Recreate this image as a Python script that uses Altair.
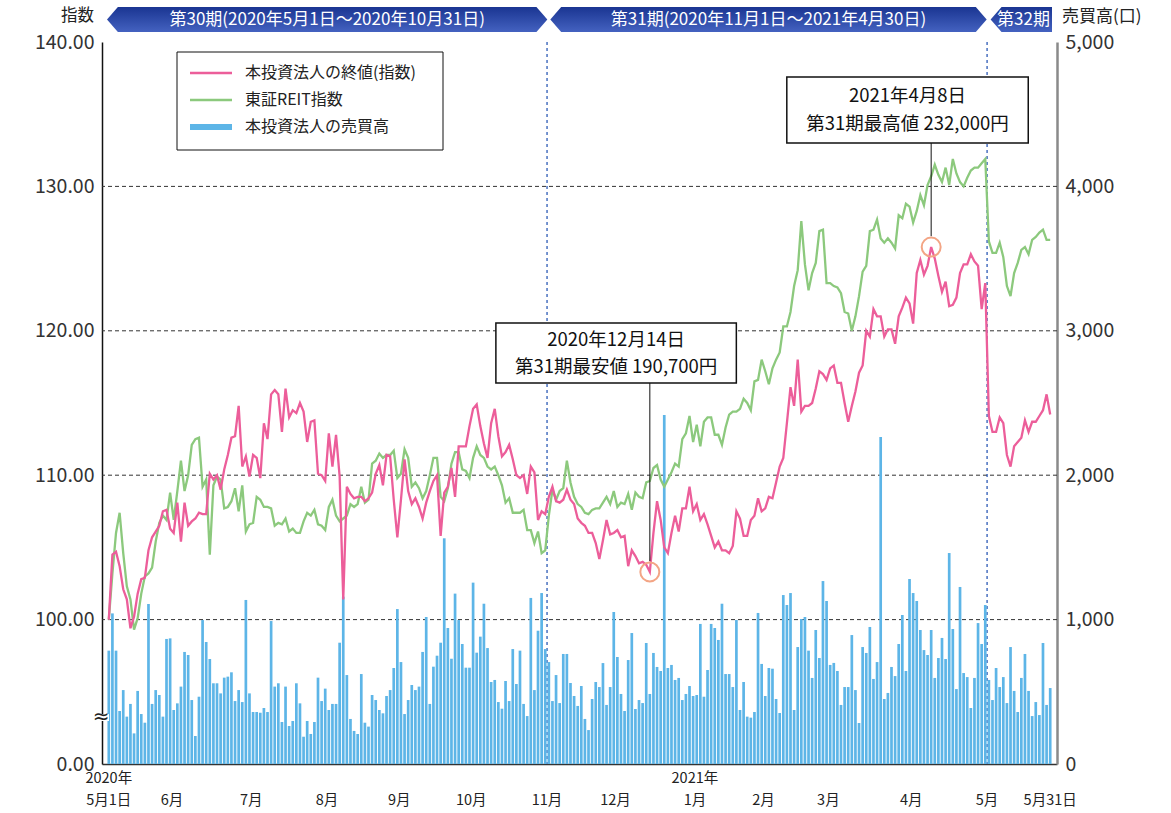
import altair as alt
import pandas as pd

FONT = "Noto Sans CJK JP"

# ---------------- trading calendar (TSE) ----------------
HOLIDAYS = ["2020-05-04", "2020-05-05", "2020-05-06", "2020-07-23", "2020-07-24",
            "2020-08-10", "2020-09-21", "2020-09-22", "2020-10-01", "2020-11-03",
            "2020-11-23", "2020-12-31", "2021-01-01", "2021-01-11", "2021-02-11",
            "2021-02-23", "2021-04-29", "2021-05-03", "2021-05-04", "2021-05-05"]
DAYS = [d for d in pd.bdate_range("2020-05-01", "2021-05-31")
        if d.strftime("%Y-%m-%d") not in HOLIDAYS]

# ---------------- series ----------------
PINK = [
    100.0, 104.5, 104.7, 103.7, 102.1, 101.4, 99.4, 100.2, 101.8, 102.8,
    102.9, 104.8, 105.7, 106.1, 106.5, 107.5, 107.6, 106.3, 106.0, 108.1,
    105.4, 108.1, 106.5, 106.8, 107.0, 107.4, 107.3, 107.3, 110.1, 109.7,
    110.0, 109.0, 110.4, 111.4, 112.6, 112.7, 114.8, 110.6, 111.3, 109.9,
    111.4, 111.2, 109.8, 113.6, 112.5, 115.6, 115.9, 115.6, 113.0, 116.0,
    114.0, 114.5, 114.3, 115.0, 114.4, 112.3, 113.7, 113.8, 110.1, 110.0,
    109.6, 112.9, 110.6, 112.8, 109.9, 101.4, 109.2, 108.7, 108.4, 108.5,
    108.5, 108.2, 108.4, 108.8, 110.1, 110.7, 109.3, 111.4, 111.3, 108.3,
    105.7, 108.3, 111.1, 108.9, 108.0, 108.4,
    107.8, 107.0, 108.1, 108.9, 109.6, 110.0, 105.8, 108.8, 109.2, 110.5,
    108.5, 112.0, 112.0, 112.0, 113.4, 114.6, 114.9, 113.4, 112.2, 111.2,
    113.6, 114.6, 112.7, 111.3, 111.6, 112.1, 111.1, 110.0, 109.8, 110.0,
    108.7, 110.6, 110.2, 106.9, 107.5, 107.3, 108.5, 109.2, 108.2, 108.1,
    108.3, 109.0, 108.3, 108.0, 107.0, 106.7, 106.5, 106.0, 106.0, 105.3,
    104.2, 105.5, 106.9, 105.9, 106.0, 106.2, 105.7, 105.8, 103.7, 104.8,
    104.4, 103.9, 104.0, 103.8, 103.3, 106.0, 108.2, 106.9, 105.0, 104.6,
    106.0, 107.2, 106.1, 107.7, 107.7, 109.2, 107.5, 108.0, 106.9, 107.3,
    106.6, 105.8, 105.0, 105.4, 104.8, 104.8, 104.6, 105.1, 107.5, 107.0,
    105.8, 105.8, 106.9, 107.2, 108.4, 107.5, 107.7, 108.5, 108.4, 109.5,
    110.6, 111.2, 113.6, 116.1, 114.8, 118.0, 114.4, 114.8, 114.8, 115.0,
    116.0, 117.2, 117.0, 116.6, 117.4, 117.6, 116.4, 116.4, 115.0, 113.7,
    114.8, 115.8, 117.1, 117.6, 120.0, 119.6, 121.5, 121.0, 121.0, 119.6,
    120.1, 120.1, 119.1, 121.0, 121.6, 122.3, 121.9, 120.5, 124.0, 124.9,
    123.9, 124.5, 125.8, 125.0, 123.8, 122.7, 123.4, 121.7, 121.8, 122.3,
    124.0, 124.6, 124.6, 125.3, 124.8, 124.5, 121.5, 123.3, 114.1, 113.0,
    113.0, 114.0, 113.6, 111.4, 110.6, 112.0, 112.3, 112.6, 113.8, 113.0,
    113.7, 113.7, 114.1, 114.5, 115.6, 114.2,
]

GREEN = [
    100.0, 103.2, 106.0, 107.4, 104.6, 102.3, 101.4, 99.3, 100.1, 101.8,
    103.0, 103.2, 103.6, 105.4, 106.7, 107.2, 106.9, 108.8, 106.9, 108.9,
    111.0, 108.9, 110.0, 112.1, 112.5, 112.6, 109.2, 109.7, 104.5, 109.3,
    109.9, 109.7, 107.7, 107.8, 108.2, 109.1, 107.5, 109.3, 106.1, 106.6,
    106.7, 108.5, 108.3, 107.8, 107.8, 107.7, 106.5, 106.7, 106.6, 107.0,
    106.1, 106.3, 106.0, 106.0, 106.8, 107.4, 107.2, 107.6, 106.6, 106.5,
    106.2, 107.8, 108.3, 107.2, 106.8, 107.0, 107.2, 108.0, 107.8, 108.0,
    109.2, 108.1, 108.3, 110.8, 111.0, 111.5, 111.2, 111.4, 111.4, 111.7,
    109.8, 110.1, 111.8, 111.2, 109.2, 109.5,
    109.1, 108.4, 108.9, 110.0, 111.2, 111.2, 108.5, 108.2, 109.1, 110.8,
    111.6, 111.6, 110.4, 110.3, 109.8, 111.2, 112.0, 111.4, 111.2, 110.6,
    110.4, 110.6, 110.0, 109.3, 108.1, 108.4, 107.4, 107.4, 107.4, 107.6,
    106.2, 106.2, 105.3, 106.1, 104.6, 104.8, 107.2, 109.0, 108.3, 108.9,
    109.1, 111.0, 109.5, 108.5, 108.0, 107.8, 107.4, 107.3, 107.6, 107.7,
    107.7, 108.1, 108.5, 108.0, 108.9, 107.8, 108.1, 108.0, 108.7, 107.6,
    108.8, 108.5, 108.4, 109.5, 109.6, 110.5, 110.7, 109.7, 109.2, 109.7,
    110.2, 110.8, 110.6, 112.5, 112.9, 114.1, 112.3, 113.5, 112.0, 113.7,
    114.0, 114.0, 112.8, 112.8, 112.1, 113.3, 114.2, 114.4, 114.4, 114.6,
    115.3, 115.0, 114.5, 116.5, 116.6, 118.0, 117.2, 116.3, 117.4, 118.0,
    118.5, 120.3, 120.3, 121.3, 123.1, 124.2, 127.6, 124.6, 122.8, 124.0,
    124.7, 126.9, 127.0, 123.3, 123.3, 123.1, 123.0, 122.6, 121.3, 121.2,
    120.0, 121.0, 122.4, 124.1, 124.5, 126.9, 127.0, 127.7, 126.4, 126.1,
    126.4, 126.1, 125.7, 128.0, 127.8, 128.8, 128.6, 127.5, 128.3, 129.4,
    128.7, 130.1, 130.7, 131.5, 130.8, 130.3, 131.3, 130.1, 131.9, 130.9,
    130.3, 130.0, 130.6, 131.1, 131.3, 131.3, 131.6, 131.9, 126.2, 125.4,
    125.4, 126.1, 125.1, 123.1, 122.4, 124.0, 124.7, 125.6, 125.8, 125.3,
    126.3, 126.5, 126.8, 127.0, 126.3, 126.3,
]

VOLUME = [
    785, 1043, 785, 367, 512, 328, 416, 212, 506, 346,
    286, 1108, 416, 512, 478, 328, 866, 870, 374, 420,
    536, 776, 755, 443, 194, 466, 997, 845, 727, 559,
    559, 489, 598, 605, 635, 436, 512, 429, 1136, 489,
    360, 360, 355, 388, 360, 990, 536, 559, 291, 536,
    263, 298, 559, 420, 189, 298, 208, 291, 598, 436,
    522, 374, 416, 416, 840, 1159, 616, 312, 229, 208,
    623, 286, 259, 478, 443, 374, 351, 471, 512, 665,
    1073, 706, 346, 443, 547, 512, 536, 776, 1018,
    416, 674, 750, 840, 1563, 942, 729, 1180, 997, 831,
    667, 667, 1256, 771, 882, 1110, 803, 568, 582, 429,
    383, 575, 436, 796, 554, 785, 416, 332, 1150, 512,
    923, 1184, 796, 706, 436, 616, 422, 762, 762, 561,
    471, 402, 540, 312, 235, 450, 568, 533, 699, 409,
    533, 1053, 741, 485, 367, 720, 907, 381, 443, 422,
    838, 485, 769, 672, 644, 2417, 665, 686, 582, 596,
    443, 485, 540, 471, 478, 970, 466, 651, 970, 942,
    859, 1110, 623, 623, 533, 997, 374,
    568, 328, 321, 360, 1046, 693, 471, 665, 660, 450,
    353, 1170, 1101, 1184, 374, 810, 1004, 1018, 785, 596,
    928, 734, 1267, 1129, 686, 700, 644, 409, 533, 533, 893,
    512, 284, 810, 769, 949, 589, 706, 2265, 450, 492,
    672, 609, 831, 1032, 644, 1281, 1184, 1129, 928, 789,
    755, 928, 596, 734, 873, 727, 1461, 935, 519, 1226,
    630, 602, 388, 596, 976, 831, 1101, 582, 443, 665,
    533, 602, 422, 810, 506, 360, 596, 762, 506, 332,
    429, 339, 838, 409, 526,
]

LEGEND_LABELS = ["本投資法人の終値(指数)", "東証REIT指数", "本投資法人の売買高"]
PERIOD_LABELS = ["第30期(2020年5月1日～2020年10月31日)",
                 "第31期(2020年11月1日～2021年4月30日)", "第32期"]
LOW_DATE, LOW_PRICE = "2020-12-14", 190700
HIGH_DATE, HIGH_PRICE = "2021-04-08", 232000

PINK_C, GREEN_C, BLUE_C = "#EC5E9A", "#8CC97D", "#5DB5E7"

N = min(len(DAYS), len(PINK), len(GREEN), len(VOLUME))
DAYS = DAYS[:N]
df = pd.DataFrame({"k": list(range(N)), "pink": PINK[:N], "green": GREEN[:N],
                   "vol": VOLUME[:N]})


def idx_of(datestr):
    ts = pd.Timestamp(datestr)
    for i, d in enumerate(DAYS):
        if d >= ts:
            return i
    return N - 1


P31 = idx_of("2020-11-01")
P32 = idx_of("2021-05-01")
K_LOW = idx_of(LOW_DATE)
K_HIGH = idx_of(HIGH_DATE)

W, H = 955, 722
PX_PER_UNIT = H / 50.0
XS = alt.Scale(domain=[-0.5, N - 0.5], nice=False, zero=False)
XAX = alt.Axis(labels=False, ticks=False, grid=False, title=None, domain=True,
               domainColor="#333333", domainWidth=1.5)
LY = alt.Scale(domain=[90, 140], nice=False, zero=False)


def X(f):
    return alt.X(f, type="quantitative", scale=XS, axis=XAX)


def YL(f):
    return alt.Y(f, type="quantitative", scale=LY, axis=None)


def py_to_val(py):  # pixel offset from plot top -> left-scale value
    return 140 - py / PX_PER_UNIT


def px_to_k(px):  # pixel offset from plot left -> index units
    return px / (W / N) - 0.5


# ---------- period banners ----------
TOP, BOT = py_to_val(-35), py_to_val(-10)
MID = (TOP + BOT) / 2
tip = 11 / (W / N)
ribbons = [(px_to_k(0), px_to_k(445), True), (px_to_k(448), px_to_k(889), True),
           (px_to_k(893), N - 0.5, False)]
brows = []
for s, (a, b, pointed_end) in enumerate(ribbons):
    brows.append({"seg": s, "bx": a, "t": MID, "b": MID})
    brows.append({"seg": s, "bx": a + tip, "t": TOP, "b": BOT})
    if pointed_end:
        brows.append({"seg": s, "bx": b - tip, "t": TOP, "b": BOT})
        brows.append({"seg": s, "bx": b, "t": MID, "b": MID})
    else:
        brows.append({"seg": s, "bx": b, "t": TOP, "b": BOT})
banner = alt.Chart(pd.DataFrame(brows)).mark_area(
    color=alt.Gradient(gradient="linear",
                       stops=[alt.GradientStop(color="#1A3592", offset=0),
                              alt.GradientStop(color="#4462C0", offset=1)],
                       x1=0, x2=0, y1=0, y2=1)
).encode(x=X("bx"), y=YL("t"), y2="b", detail="seg:N")

btext_df = pd.DataFrame({
    "k": [(ribbons[0][0] + ribbons[0][1]) / 2, (ribbons[1][0] + ribbons[1][1]) / 2,
          (ribbons[2][0] + ribbons[2][1]) / 2 + 0.6],
    "v": [MID] * 3, "t": PERIOD_LABELS})
banner_text = alt.Chart(btext_df).mark_text(
    font=FONT, fontSize=17, color="white", baseline="middle", align="center"
).encode(x=X("k"), y=YL("v"), text="t:N")

# ---------- grid and period separators ----------
grid = alt.Chart(pd.DataFrame({"g": [100, 110, 120, 130]})).mark_rule(
    color="#333333", strokeDash=[4, 3], strokeWidth=1).encode(y=YL("g"))
vrules = alt.Chart(pd.DataFrame({"b": [P31 - 0.5, P32 - 0.5]})).mark_rule(
    color="#1C4DB0", strokeDash=[3, 3], strokeWidth=1.2).encode(x=X("b"))

# ---------- bars ----------
bars = alt.Chart(df).mark_bar(size=2.7, color=BLUE_C).encode(
    x=X("k"),
    y=alt.Y("vol:Q", scale=alt.Scale(domain=[0, 5000], nice=False),
            axis=alt.Axis(orient="right", values=[0, 1000, 2000, 3000, 4000, 5000],
                          labelExpr="format(datum.value, ',d')",
                          title=None, grid=False, ticks=False,
                          domainColor="#8a8a8a", domainWidth=2.5, labelFont=FONT,
                          labelFontSize=19.5, labelColor="#333333", labelPadding=8)))

# ---------- lines ----------
green = alt.Chart(df).mark_line(color=GREEN_C, strokeWidth=2.3).encode(
    x=X("k"), y=YL("green"))
pink = alt.Chart(df).mark_line(color=PINK_C, strokeWidth=2.3).encode(
    x=X("k"),
    y=alt.Y("pink:Q", scale=LY,
            axis=alt.Axis(orient="left", values=[90, 100, 110, 120, 130, 140],
                          labelExpr="datum.value == 90 ? '0.00' : format(datum.value, '.2f')",
                          title=None, grid=False, ticks=False, domainColor="#111111",
                          domainWidth=1.5, labelFont=FONT, labelFontSize=19.5,
                          labelColor="#333333", labelPadding=8)))

# ---------- annotations ----------
pts = pd.DataFrame({"k": [K_LOW, K_HIGH], "v": [PINK[K_LOW], PINK[K_HIGH]]})
circles = alt.Chart(pts).mark_point(shape="circle", size=360, filled=False,
                                    color="#F3A585", strokeWidth=2, opacity=1).encode(
    x=X("k"), y=YL("v"))

box_df = pd.DataFrame({
    "x1": [px_to_k(393), px_to_k(687)], "x2": [px_to_k(636), px_to_k(931)],
    "y1": [py_to_val(281), py_to_val(35)], "y2": [py_to_val(341), py_to_val(101)]})
leads = alt.Chart(pd.DataFrame({
    "k": [K_LOW, K_HIGH],
    "a": [PINK[K_LOW] + 0.75, PINK[K_HIGH] + 0.75],
    "b": [box_df["y2"][0], box_df["y2"][1]]})).mark_rule(
    color="#111111", strokeWidth=1).encode(x=X("k"), y=YL("a"), y2="b")
boxes = alt.Chart(box_df).mark_rect(fill="white", stroke="#111111",
                                    strokeWidth=1.5).encode(
    x=X("x1"), x2="x2", y=YL("y1"), y2="y2")


def jdate(ds):
    d = pd.Timestamp(ds)
    return f"{d.year}年{d.month}月{d.day}日"


atext_df = pd.DataFrame({
    "k": [(box_df["x1"][0] + box_df["x2"][0]) / 2] * 2 + [(box_df["x1"][1] + box_df["x2"][1]) / 2] * 2,
    "v": [py_to_val(297.5), py_to_val(325), py_to_val(54), py_to_val(82)],
    "t": [jdate(LOW_DATE), f"第31期最安値 {LOW_PRICE:,}円",
          jdate(HIGH_DATE), f"第31期最高値 {HIGH_PRICE:,}円"]})
atext = alt.Chart(atext_df).mark_text(font=FONT, fontSize=18.5, color="#111111",
                                      baseline="middle", align="center").encode(
    x=X("k"), y=YL("v"), text="t:N")

# ---------- legend ----------
one = pd.DataFrame({"a": [0]})
leg_box = alt.Chart(one).mark_rect(fill="white", stroke="#111111", strokeWidth=1).encode(
    x=alt.value(75), x2=alt.value(341), y=alt.value(10), y2=alt.value(108))
leg_df = pd.DataFrame({"ly": [31, 58, 85], "c": [PINK_C, GREEN_C, BLUE_C],
                       "sw": [2.5, 2.5, 6], "t": LEGEND_LABELS})
leg_lines = alt.Chart(leg_df).mark_rule().encode(
    x=alt.value(88), x2=alt.value(130), y=alt.Y("ly:Q", scale=None),
    color=alt.Color("c:N", scale=None), strokeWidth=alt.StrokeWidth("sw:Q", scale=None))
leg_text = alt.Chart(leg_df).mark_text(font=FONT, fontSize=16, color="#222222",
                                       align="left", baseline="middle").encode(
    x=alt.value(143), y=alt.Y("ly:Q", scale=None), text="t:N")

# ---------- x labels ----------
xl = []
prev = None
for i, d in enumerate(DAYS):
    if d.month != prev:
        if i == 0:
            xl.append({"k": 0, "t": f"{d.month}月{d.day}日", "py": 759})
            xl.append({"k": 0, "t": f"{d.year}年", "py": 737})
        else:
            xl.append({"k": i - 0.5, "t": f"{d.month}月", "py": 759})
            if d.month == 1:
                xl.append({"k": i - 0.5, "t": f"{d.year}年", "py": 737})
        prev = d.month
xl.append({"k": N - 1, "t": f"{DAYS[-1].month}月{DAYS[-1].day}日", "py": 759})
xlabels = alt.Chart(pd.DataFrame(xl)).mark_text(
    font=FONT, fontSize=14.5, color="#222222", baseline="middle", align="center").encode(
    x=X("k"), y=alt.Y("py:Q", scale=None), text="t:N")

# ---------- titles ----------
t_left = alt.Chart(one).mark_text(font=FONT, fontSize=16.5, color="#222222",
                                  align="right", baseline="middle").encode(
    x=alt.value(-8), y=alt.value(-26), text=alt.value("指数"))
t_right = alt.Chart(one).mark_text(font=FONT, fontSize=17, color="#222222",
                                   align="left", baseline="middle").encode(
    x=alt.value(960), y=alt.value(-25), text=alt.value("売買高(口)"))

# ---------- axis break ----------
brk_bg = alt.Chart(one).mark_rect(fill="white").encode(
    x=alt.value(-7), x2=alt.value(7), y=alt.value(672), y2=alt.value(679))
brk = alt.Chart(one).mark_text(font="DejaVu Sans", fontSize=20, color="#222222",
                               align="center", baseline="middle").encode(
    x=alt.value(-1), y=alt.value(675), text=alt.value("≈"))

chart = alt.layer(
    banner, banner_text, grid, vrules, bars, green, pink, leads, circles,
    boxes, atext, leg_box, leg_lines, leg_text, xlabels, t_left, t_right,
    brk_bg, brk
).resolve_scale(y="independent").properties(
    width=W, height=H,
    autosize=alt.AutoSizeParams(type="none"),
    padding={"left": 102, "top": 42, "right": 114, "bottom": 49},
    background="white",
).configure_view(stroke=None)

chart.save("out.html", embed_options={"renderer": "svg", "actions": False})
